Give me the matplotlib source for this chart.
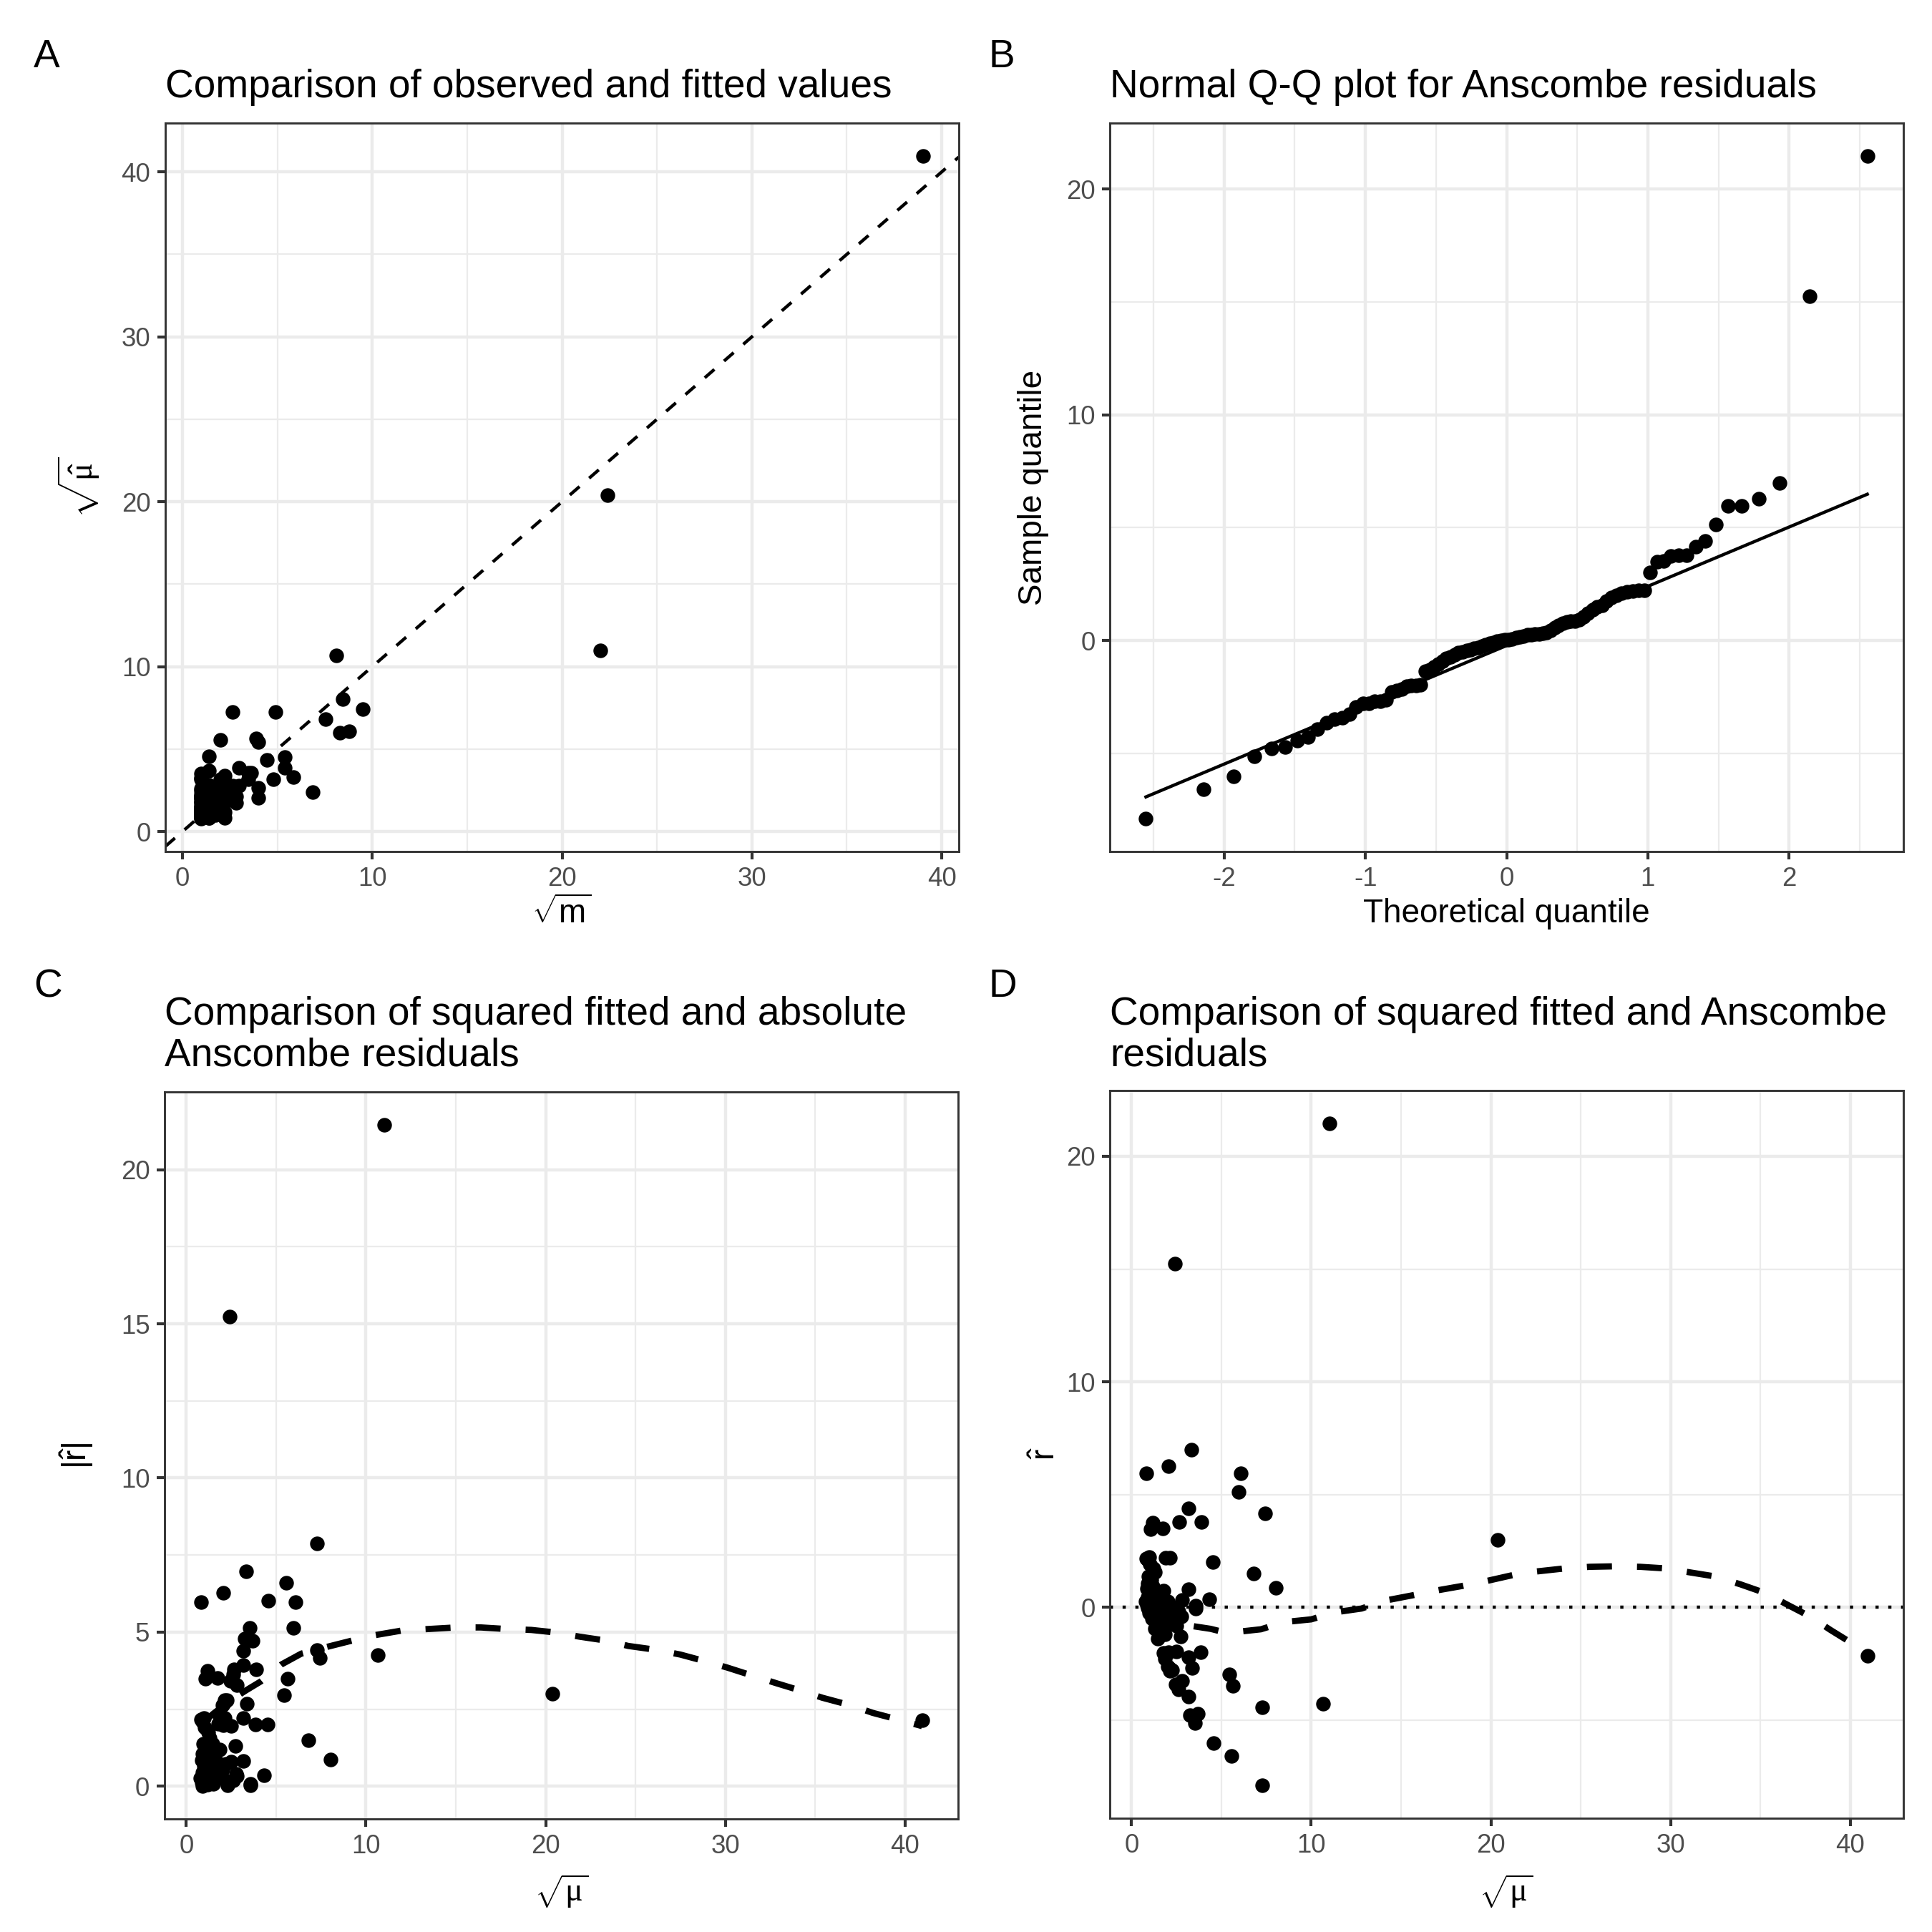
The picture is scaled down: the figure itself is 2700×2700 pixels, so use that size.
import numpy as np
import matplotlib
matplotlib.use("Agg")
import matplotlib.pyplot as plt
from statistics import NormalDist

plt.rcParams['font.family'] = ['Liberation Sans', 'DejaVu Sans']
plt.rcParams['mathtext.fontset'] = 'custom'
plt.rcParams['mathtext.rm'] = 'Liberation Sans'
plt.rcParams['mathtext.it'] = 'Liberation Serif'
plt.rcParams['mathtext.bf'] = 'Liberation Sans:bold'
plt.rcParams['axes.unicode_minus'] = False

# one row per observation, ordered by the Anscombe residual
fit_sqrt = [7.27, 5.57, 4.55, 3.52, 3.26, 3.70, 7.27, 10.68, 3.18, 2.61,
            5.63, 2.47, 2.81, 5.45, 2.15, 2.25, 2.10, 3.39, 2.03, 1.84,
            3.18, 40.95, 1.77, 3.87, 2.05, 2.50, 1.48, 2.75, 1.84, 1.60,
            1.30, 2.50, 2.20, 1.45, 2.00, 1.15, 1.70, 2.77, 1.25, 1.90,
            0.97, 2.60, 1.10, 1.50, 3.56, 0.90, 2.30, 1.20, 3.58, 0.85,
            1.35, 1.00, 2.00, 0.80, 1.60, 1.10, 2.80, 4.34, 0.90, 1.30,
            1.00, 1.77, 3.16, 0.85, 8.03, 1.20, 0.90, 1.10, 0.95, 6.80,
            1.30, 1.24, 1.04, 4.53, 0.90, 0.81, 1.90, 2.13, 1.00, 20.38,
            1.05, 1.74, 1.20, 2.67, 3.88, 7.43, 3.19, 5.98, 6.09, 0.81,
            2.06, 3.32, 2.40, 11.00]

obs_sqrt = [2.65, 2.00, 1.41, 1.00, 1.00, 1.41, 4.90, 8.12, 1.00, 1.00,
            3.87, 1.00, 1.41, 4.00, 1.00, 1.00, 1.00, 2.24, 1.00, 1.00,
            2.00, 39.00, 1.00, 3.00, 1.00, 1.41, 1.00, 2.00, 1.41, 1.00,
            1.00, 2.00, 1.73, 1.00, 1.73, 1.00, 1.41, 2.65, 1.00, 1.73,
            1.00, 2.45, 1.00, 1.41, 3.46, 1.00, 2.24, 1.00, 3.61, 1.00,
            1.41, 1.00, 2.00, 1.00, 1.73, 1.41, 3.00, 4.47, 1.00, 1.41,
            1.41, 2.00, 3.46, 1.41, 8.43, 1.41, 1.41, 1.41, 1.41, 7.55,
            1.73, 1.73, 1.41, 5.39, 1.41, 1.41, 2.45, 2.83, 1.73, 22.38,
            2.00, 2.83, 2.24, 4.00, 5.39, 9.49, 4.80, 8.31, 8.77, 2.24,
            4.00, 5.83, 6.86, 22.00]

anscombe_res = [-7.88, -6.59, -6.02, -5.14, -4.78, -4.72, -4.42, -4.26, -3.94, -3.63,
                -3.48, -3.42, -3.27, -2.96, -2.80, -2.78, -2.70, -2.68, -2.62, -2.27,
                -2.21, -2.15, -2.02, -2.00, -1.98, -1.95, -1.37, -1.30, -1.18, -1.05,
                -0.93, -0.80, -0.72, -0.62, -0.55, -0.50, -0.45, -0.40, -0.35, -0.30,
                -0.24, -0.18, -0.12, -0.08, -0.04, -0.01, 0.02, 0.05, 0.08, 0.12,
                0.16, 0.20, 0.25, 0.27, 0.29, 0.30, 0.32, 0.35, 0.45, 0.58,
                0.66, 0.75, 0.82, 0.85, 0.87, 0.92, 1.05, 1.22, 1.38, 1.50,
                1.56, 1.74, 1.90, 2.00, 2.10, 2.16, 2.20, 2.21, 2.22, 3.00,
                3.48, 3.51, 3.75, 3.78, 3.78, 4.17, 4.40, 5.13, 5.96, 5.96,
                6.27, 6.98, 15.24, 21.45]

smooth_abs_x = [0.8, 1.5, 2.5, 3.3, 4.15, 5.3, 6.4, 7.7, 9.4, 10.5, 12.0, 13.5, 15.0,
                16.4, 17.8, 19.2, 20.5, 21.9, 23.4, 24.6, 26.2, 27.5, 28.9, 30.1,
                31.6, 32.9, 34.2, 35.4, 37.0, 38.2, 39.5, 40.95]
smooth_abs_y = [2.0, 2.35, 2.8, 3.1, 3.4, 3.95, 4.3, 4.5, 4.75, 4.9, 5.05, 5.1, 5.15,
                5.15, 5.1, 5.07, 4.99, 4.85, 4.72, 4.55, 4.42, 4.27, 4.05, 3.85,
                3.57, 3.33, 3.1, 2.87, 2.62, 2.38, 2.18, 1.95]
smooth_res_x = [0.8, 2.0, 3.0, 4.4, 5.0, 5.7, 7.2, 8.5, 10.0, 11.3, 12.8, 14.1, 15.6,
                16.9, 18.4, 19.7, 21.2, 22.5, 24.0, 25.5, 26.8, 28.3, 29.7, 31.1,
                32.5, 33.9, 35.3, 36.5, 37.8, 38.9, 40.2, 40.95]
smooth_res_y = [-0.2, -0.55, -0.78, -0.95, -1.07, -1.1, -0.97, -0.65, -0.53, -0.22,
                -0.05, 0.3, 0.53, 0.74, 0.95, 1.16, 1.43, 1.59, 1.72, 1.8, 1.82,
                1.8, 1.73, 1.55, 1.37, 1.02, 0.63, 0.12, -0.42, -1.0, -1.64, -2.12]

fit_sqrt = np.array(fit_sqrt)
obs_sqrt = np.array(obs_sqrt)
anscombe_res = np.array(anscombe_res)

W = 2700.0
fig = plt.figure(figsize=(9, 9), dpi=300)
GRID = '#EBEBEB'
DARK = '#333333'


def box(l, t, r, b):
    return [l / W, 1 - b / W, (r - l) / W, (b - t) / W]


def expand(v, frac=0.05):
    lo, hi = float(np.min(v)), float(np.max(v))
    d = (hi - lo) * frac
    return lo - d, hi + d


def style(ax, xmaj, ymaj, xmin, ymin):
    ax.set_xticks(xmaj)
    ax.set_yticks(ymaj)
    ax.set_xticks(xmin, minor=True)
    ax.set_yticks(ymin, minor=True)
    ax.grid(which='major', color=GRID, lw=1.07)
    ax.grid(which='minor', color=GRID, lw=0.55)
    ax.set_axisbelow(True)
    ax.tick_params(which='major', length=2.75, width=1.0, color=DARK,
                   labelsize=8.8, labelcolor='#4D4D4D', pad=2.2)
    ax.tick_params(which='minor', length=0)
    for s in ax.spines.values():
        s.set_color(DARK)
        s.set_linewidth(0.7)


def txt(x, y, s, **kw):
    kw.setdefault('fontsize', 11)
    fig.text(x / W, 1 - y / W, s, **kw)


pts = dict(s=24, color='black', linewidths=0, zorder=3)

# A: observed vs fitted
axA = fig.add_axes(box(231, 172, 1340, 1190))
axA.scatter(obs_sqrt, fit_sqrt, **pts)
axA.set_xlim(*expand(obs_sqrt))
axA.set_ylim(*expand(fit_sqrt))
axA.axline((0, 0), slope=1, color='black', lw=1.07, dashes=(4, 4), zorder=2)
style(axA, [0, 10, 20, 30, 40], [0, 10, 20, 30, 40], [5, 15, 25, 35], [5, 15, 25, 35])

# B: normal QQ
n = len(anscombe_res)
theo = np.array([NormalDist().inv_cdf((i - 0.5) / n) for i in range(1, n + 1)])
samp = np.sort(anscombe_res)
q_s = np.percentile(samp, [25, 75])
q_t = np.array([NormalDist().inv_cdf(0.25), NormalDist().inv_cdf(0.75)])
slope = (q_s[1] - q_s[0]) / (q_t[1] - q_t[0])
icpt = q_s[0] - slope * q_t[0]
axB = fig.add_axes(box(1551, 172, 2660, 1190))
axB.scatter(theo, samp, **pts)
axB.plot([theo[0], theo[-1]], [icpt + slope * theo[0], icpt + slope * theo[-1]],
         color='black', lw=1.07, zorder=4)
axB.set_xlim(*expand(theo))
axB.set_ylim(*expand(samp))
style(axB, [-2, -1, 0, 1, 2], [0, 10, 20], [-2.5, -1.5, -0.5, 0.5, 1.5, 2.5], [-5, 5, 15])

# C: |residual| vs fitted
abs_res = np.abs(anscombe_res)
axC = fig.add_axes(box(230, 1526, 1339, 2542))
axC.scatter(fit_sqrt, abs_res, **pts)
axC.plot(smooth_abs_x, smooth_abs_y, color='black', lw=2.1, dashes=(4, 4),
         dash_capstyle='butt', zorder=4)
axC.set_xlim(*expand(fit_sqrt))
axC.set_ylim(*expand(abs_res))
style(axC, [0, 10, 20, 30, 40], [0, 5, 10, 15, 20], [5, 15, 25, 35],
      [2.5, 7.5, 12.5, 17.5])

# D: residual vs fitted
axD = fig.add_axes(box(1551, 1524, 2660, 2541))
axD.scatter(fit_sqrt, anscombe_res, **pts)
axD.axhline(0, color='black', lw=1.07, dashes=(1, 3), zorder=2)
axD.plot(smooth_res_x, smooth_res_y, color='black', lw=2.1, dashes=(4, 4),
         dash_capstyle='butt', zorder=4)
axD.set_xlim(*expand(fit_sqrt))
axD.set_ylim(*expand(anscombe_res))
style(axD, [0, 10, 20, 30, 40], [0, 10, 20], [5, 15, 25, 35], [-5, 5, 15])

# titles and tags
TS = 13.2
txt(47, 94, 'A', fontsize=TS, va='baseline')
txt(1382, 94, 'B', fontsize=TS, va='baseline')
txt(47, 1393, 'C', fontsize=TS, va='baseline')
txt(1382, 1393, 'D', fontsize=TS, va='baseline')
txt(231, 136, 'Comparison of observed and fitted values', fontsize=TS, va='baseline')
txt(1551, 136, 'Normal Q-Q plot for Anscombe residuals', fontsize=TS, va='baseline')
txt(230, 1432, 'Comparison of squared fitted and absolute', fontsize=TS, va='baseline')
txt(230, 1489, 'Anscombe residuals', fontsize=TS, va='baseline')
txt(1551, 1432, 'Comparison of squared fitted and Anscombe', fontsize=TS, va='baseline')
txt(1551, 1489, 'residuals', fontsize=TS, va='baseline')

# axis titles
txt(785, 1277, r'$\sqrt{\mathrm{m}}$', ha='center', va='center')
txt(110, 681, r'$\sqrt{\hat{\mu}}$', ha='center', va='center', rotation=90)
txt(2105, 1277, 'Theoretical quantile', ha='center', va='center')
txt(1444, 681, 'Sample quantile', ha='center', va='center', rotation=90)
txt(785, 2643, r'$\sqrt{\mu}$', ha='center', va='center')
txt(107, 2034, r'$|\hat{\mathrm{r}}|$', ha='center', va='center', rotation=90)
txt(2105, 2643, r'$\sqrt{\mu}$', ha='center', va='center')
txt(1462, 2032, r'$\hat{\mathrm{r}}$', ha='center', va='center', rotation=90)

fig.savefig('out.png', dpi=300, facecolor='white')
